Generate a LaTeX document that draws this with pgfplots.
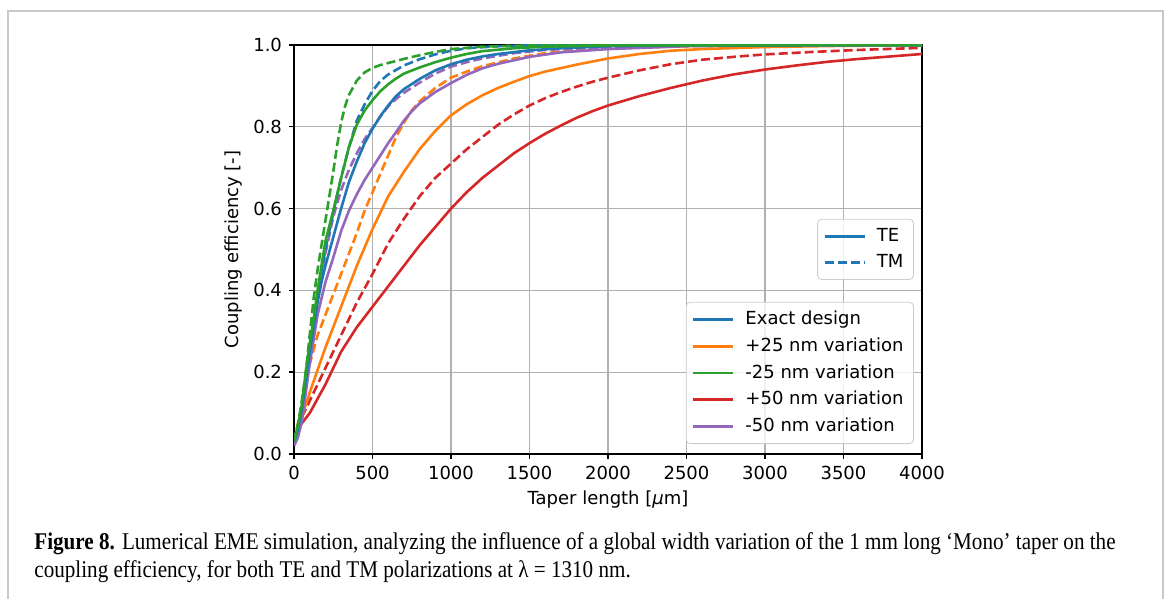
\documentclass[border=0pt]{standalone}
\usepackage{fontspec}
\usepackage{pgfplots}
\pgfplotsset{compat=1.18}
\setmainfont{DejaVu Sans}
\newfontfamily\capfont[FakeStretch=0.88]{Liberation Serif}
\definecolor{C0}{HTML}{1F77B4}
\definecolor{C1}{HTML}{FF7F0E}
\definecolor{C2}{HTML}{2CA02C}
\definecolor{C3}{HTML}{D62728}
\definecolor{C4}{HTML}{9467BD}
\definecolor{gridc}{RGB}{176,176,176}
\definecolor{framec}{RGB}{200,200,200}
\definecolor{legc}{RGB}{204,204,204}
\tikzset{tm/.style={dash pattern=on 4.5pt off 2pt}}
\pgfplotsset{
  common/.style={
    width=314pt, height=204.5pt, scale only axis,
    xmin=0, xmax=4000, ymin=0, ymax=1,
    legend image code/.code={\path[draw=none,fill=none] (0pt,-0.5pt) rectangle (24pt,0.5pt);\draw[##1, line width=1.3pt] (0pt,0pt) -- (20pt,0pt);},
    legend style={draw=legc, rounded corners=2pt, fill=white, fill opacity=0.8, text opacity=1,
      font=\fontsize{9}{11}\selectfont, row sep=1pt, inner xsep=3pt, inner ysep=2.5pt,
      cells={anchor=west}, anchor=north east},
  }
}
\begin{document}
\begin{tikzpicture}
\path[use as bounding box] (0,0) rectangle (583.5pt,299.5pt);
\draw[line width=1pt, framec] (4pt,-1pt) -- (4pt,294pt) -- (581.5pt,294pt) -- (581.5pt,-1pt);
\begin{axis}[common, at={(147pt,72.5pt)}, anchor=south west,
  xtick={0,500,...,4000}, ytick={0,0.2,0.4,0.6,0.8,1.0},
  grid=major, grid style={gridc, line width=0.6pt},
  axis line style={line width=0.7pt},
  tick align=outside, major tick length=2.5pt, tick style={black, line width=0.7pt},
  xtick pos=bottom, ytick pos=left,
  /pgf/number format/assume math mode=true,
  yticklabel style={/pgf/number format/.cd, fixed, fixed zerofill, precision=1},
  xticklabel style={/pgf/number format/1000 sep={}},
  tick label style={font=\fontsize{9}{11}\selectfont},
  label style={font=\fontsize{9}{11}\selectfont},
  xlabel={Taper length [{\itshape μ}m]}, ylabel={Coupling efficiency [-]},
  xlabel style={at={(axis description cs:0.5,-0.112)}, anchor=center},
  ylabel style={at={(axis description cs:-0.097,0.5)}, anchor=center},
  legend style={at={(rel axis cs:0.987,0.372)}},
  legend entries={Exact design,+25 nm variation,-25 nm variation,+50 nm variation,-50 nm variation},
  every axis plot/.append style={line width=1.3pt, line join=round},
]
\addlegendimage{C0}
\addlegendimage{C1}
\addlegendimage{C2}
\addlegendimage{C3}
\addlegendimage{C4}
% red solid (+50 TE)
\addplot[C3, forget plot] coordinates {(0,0.03)(25,0.06)(50,0.075)(100,0.1)(200,0.17)(300,0.25)(400,0.31)(500,0.36)(600,0.41)(700,0.46)(800,0.51)(900,0.555)(1000,0.6)(1100,0.64)(1200,0.675)(1300,0.705)(1400,0.735)(1500,0.76)(1600,0.783)(1700,0.803)(1800,0.822)(1900,0.838)(2000,0.852)(2200,0.875)(2400,0.895)(2600,0.913)(2800,0.928)(3000,0.94)(3200,0.95)(3400,0.959)(3600,0.966)(3800,0.972)(4000,0.978)};
% red dashed (+50 TM)
\addplot[C3, tm, forget plot] coordinates {(0,0.03)(50,0.09)(100,0.13)(200,0.21)(300,0.29)(400,0.37)(500,0.44)(600,0.515)(700,0.575)(800,0.63)(900,0.675)(1000,0.71)(1100,0.745)(1200,0.775)(1300,0.805)(1400,0.83)(1500,0.852)(1600,0.87)(1700,0.885)(1800,0.898)(1900,0.91)(2000,0.92)(2200,0.938)(2400,0.953)(2600,0.964)(2800,0.971)(3000,0.977)(3300,0.983)(3600,0.988)(4000,0.993)};
% orange solid (+25 TE)
\addplot[C1, forget plot] coordinates {(0,0.03)(50,0.09)(100,0.15)(200,0.26)(300,0.36)(400,0.46)(500,0.55)(600,0.63)(700,0.69)(800,0.745)(900,0.79)(1000,0.828)(1100,0.855)(1200,0.877)(1300,0.895)(1400,0.91)(1500,0.924)(1600,0.935)(1800,0.952)(2000,0.967)(2200,0.978)(2400,0.986)(2600,0.99)(3000,0.995)(3500,0.998)(4000,0.999)};
% orange dashed (+25 TM)
\addplot[C1, tm, forget plot] coordinates {(0,0.03)(50,0.12)(100,0.22)(150,0.29)(200,0.34)(250,0.39)(300,0.44)(350,0.49)(400,0.54)(450,0.595)(500,0.64)(550,0.685)(600,0.73)(650,0.775)(700,0.81)(750,0.84)(800,0.862)(900,0.895)(1000,0.92)(1100,0.935)(1200,0.948)(1400,0.967)(1600,0.98)(1800,0.987)(2000,0.992)(2500,0.997)(3000,0.999)(4000,1.0)};
% purple solid (-50 TE)
\addplot[C4, forget plot] coordinates {(0,0.02)(25,0.04)(50,0.08)(75,0.15)(100,0.22)(150,0.34)(200,0.42)(250,0.48)(300,0.545)(350,0.595)(400,0.635)(450,0.67)(500,0.7)(550,0.73)(600,0.76)(650,0.787)(700,0.815)(750,0.838)(800,0.857)(900,0.885)(1000,0.907)(1100,0.927)(1200,0.943)(1300,0.954)(1500,0.971)(1700,0.982)(2000,0.99)(2500,0.997)(3000,0.999)(4000,1.0)};
% purple dashed (-50 TM)
\addplot[C4, tm, forget plot] coordinates {(0,0.02)(25,0.05)(50,0.1)(75,0.17)(100,0.25)(150,0.38)(200,0.49)(250,0.58)(300,0.645)(350,0.695)(400,0.735)(450,0.77)(500,0.797)(550,0.825)(600,0.85)(650,0.868)(700,0.883)(800,0.908)(900,0.93)(1000,0.947)(1100,0.958)(1200,0.967)(1400,0.98)(1600,0.988)(2000,0.995)(2500,0.999)(4000,1.0)};
% blue solid (exact TE)
\addplot[C0, forget plot] coordinates {(0,0.03)(25,0.06)(50,0.11)(75,0.18)(100,0.25)(125,0.31)(150,0.37)(175,0.42)(200,0.46)(250,0.53)(300,0.6)(350,0.665)(400,0.715)(450,0.76)(500,0.795)(550,0.826)(600,0.852)(650,0.875)(700,0.892)(800,0.917)(900,0.938)(1000,0.953)(1100,0.964)(1200,0.972)(1300,0.978)(1500,0.987)(1700,0.992)(2000,0.997)(2500,0.999)(4000,1.0)};
% blue dashed (exact TM)
\addplot[C0, tm, forget plot] coordinates {(0,0.03)(25,0.07)(50,0.12)(75,0.19)(100,0.27)(150,0.39)(200,0.5)(250,0.59)(300,0.675)(350,0.75)(400,0.815)(450,0.855)(500,0.888)(550,0.912)(600,0.928)(700,0.95)(800,0.965)(900,0.977)(1000,0.986)(1100,0.992)(1300,0.997)(1600,1.0)(4000,1.0)};
% green solid (-25 TE)
\addplot[C2, forget plot] coordinates {(0,0.03)(25,0.07)(50,0.12)(75,0.2)(100,0.27)(125,0.33)(150,0.4)(175,0.46)(200,0.52)(250,0.595)(300,0.675)(350,0.75)(400,0.805)(450,0.84)(500,0.865)(550,0.887)(600,0.904)(650,0.918)(700,0.93)(800,0.945)(900,0.958)(1000,0.969)(1100,0.978)(1200,0.985)(1400,0.992)(1600,0.996)(2000,0.999)(4000,1.0)};
% green dashed (-25 TM)
\addplot[C2, tm, forget plot] coordinates {(0,0.03)(25,0.07)(50,0.13)(75,0.2)(100,0.29)(125,0.38)(150,0.45)(175,0.51)(200,0.57)(225,0.63)(250,0.69)(275,0.755)(300,0.81)(325,0.85)(350,0.878)(400,0.913)(450,0.933)(500,0.944)(550,0.951)(600,0.956)(700,0.966)(800,0.975)(900,0.983)(1000,0.99)(1200,0.996)(1500,0.999)(2000,1.0)(4000,1.0)};
\end{axis}
\begin{axis}[common, at={(147pt,72.5pt)}, anchor=south west, hide axis,
  legend style={at={(rel axis cs:0.987,0.575)}},
  legend entries={TE,TM}]
\addlegendimage{C0}
\addlegendimage{C0, tm}
\end{axis}
\node[anchor=base west, inner sep=0pt, font=\capfont\fontsize{12}{14}\selectfont] at (17pt,24.5pt)
  {\textbf{Figure 8.} Lumerical EME simulation, analyzing the influence of a global width variation of the 1 mm long ‘Mono’ taper on the};
\node[anchor=base west, inner sep=0pt, font=\capfont\fontsize{12}{14}\selectfont] at (17pt,10.5pt)
  {coupling efficiency, for both TE and TM polarizations at λ = 1310 nm.};
\end{tikzpicture}
\end{document}
